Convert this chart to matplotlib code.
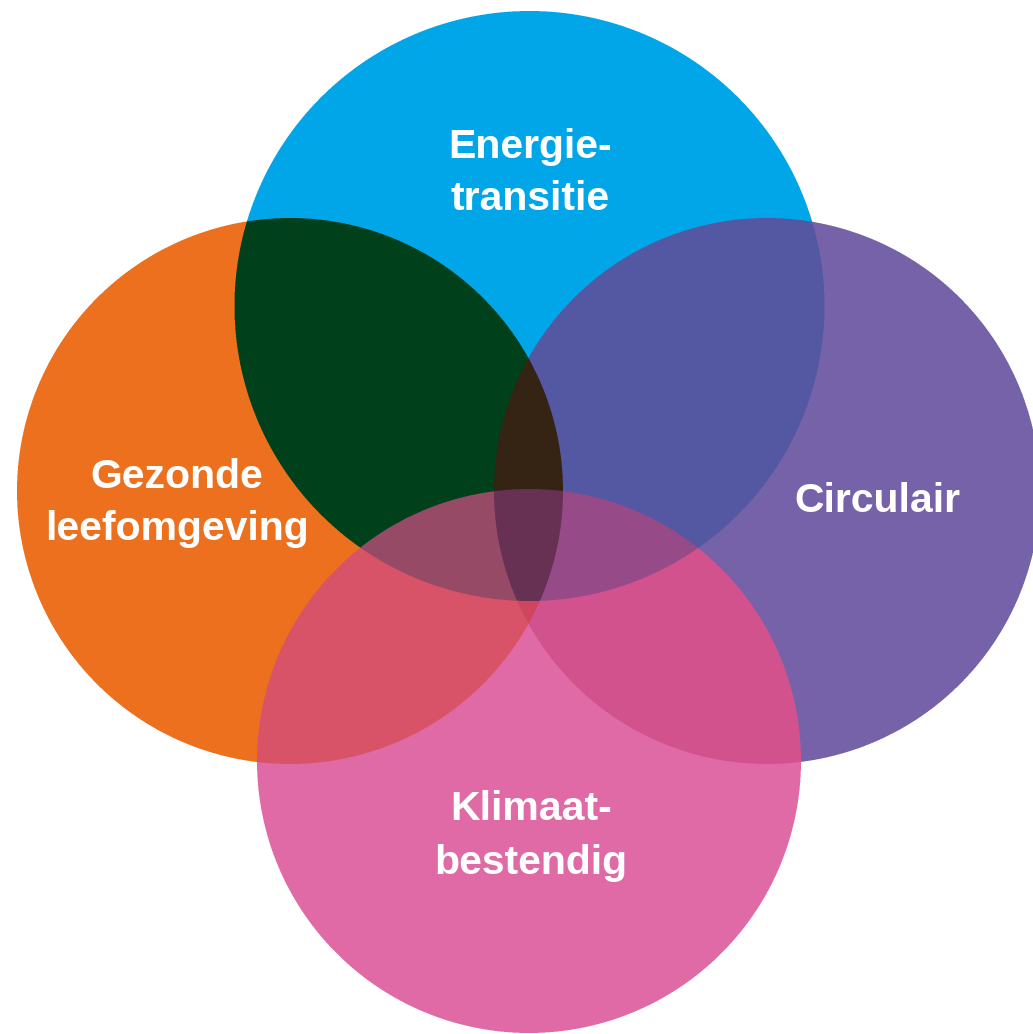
import numpy as np
import matplotlib.pyplot as plt

# vier thema's, volgorde: boven, links, rechts, onder
labels = ["Energie-\ntransitie", "Gezonde\nleefomgeving", "Circulair", "Klimaat-\nbestendig"]
base_colors = ["#00A6E9", "#EC701D", "#7762A8", "#E06AA6"]

# kleuren van de overlappen (index van de cirkels die elkaar raken)
overlap_colors = {
    (0, 1): "#00401A",
    (0, 2): "#5458A2",
    (0, 3): "#964A88",
    (1, 2): "#352313",
    (1, 3): "#DA5369",
    (2, 3): "#D3528E",
    (0, 1, 2): "#352313",
    (0, 1, 3): "#974A66",
    (0, 2, 3): "#964A88",
    (1, 2, 3): "#D0465F",
    (0, 1, 2, 3): "#663153",
}

# layout in pixels
W, H = 1033, 1034
centers = [(529.5, 306), (290, 491), (767, 491), (529, 761)]
radii = [295, 273, 273, 272]
label_pos = [(530, 173), (177, 503), (877, 501), (531, 836)]

ss = 3  # supersampling voor gladde randen
xs = ((np.arange(W * ss) + 0.5) / ss).astype(np.float32)
ys = ((np.arange(H * ss) + 0.5) / ss).astype(np.float32)

code = np.zeros((H * ss, W * ss), dtype=np.uint8)
for i, ((cx, cy), r) in enumerate(zip(centers, radii)):
    inside = (xs[None, :] - cx) ** 2 + (ys[:, None] - cy) ** 2 <= r ** 2
    code |= (inside.astype(np.uint8) << i)

lut = np.ones((16, 3), dtype=np.float32)
for c in range(1, 16):
    members = tuple(i for i in range(4) if (c >> i) & 1)
    col = base_colors[members[0]] if len(members) == 1 else overlap_colors[members]
    lut[c] = plt.matplotlib.colors.to_rgb(col)

img = lut[code].reshape(H, ss, W, ss, 3).mean(axis=(1, 3))

fig = plt.figure(figsize=(W / 100, H / 100), dpi=100)
ax = fig.add_axes([0, 0, 1, 1])
ax.imshow(img, extent=(0, W, H, 0), interpolation='none')
ax.set_xlim(0, W)
ax.set_ylim(H, 0)
ax.axis('off')

for (x, y), text in zip(label_pos, labels):
    ax.text(x, y, text, ha='center', va='center', multialignment='center',
            color='white', fontsize=29.5, fontweight='bold',
            family='Liberation Sans', linespacing=1.5)

fig.savefig('out.png', dpi=100)
